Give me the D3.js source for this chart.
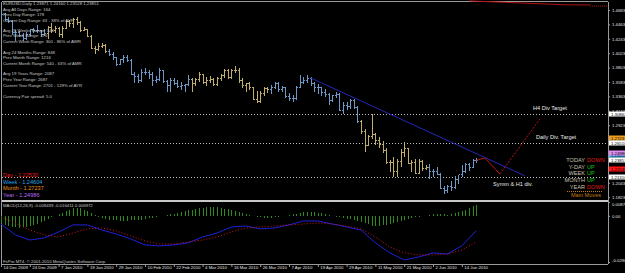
<!DOCTYPE html>
<html>
<head>
<meta charset="utf-8">
<script src="https://cdn.jsdelivr.net/npm/d3@7"></script>
<style>
  body { margin: 0; background: #000; overflow: hidden; }
  svg { display: block; font-family: "Liberation Sans", Arial, sans-serif; }
</style>
</head>
<body>
<svg id="chart" width="625" height="273"></svg>
<script>
// EURUSD daily, 14 Dec 2009 .. 18 Jun 2010 (one bar per trading day)
const opens  = [1.4585,1.4620,1.4545,1.4520,1.4340,1.4345,1.4300,1.4260,1.4320,1.4385,1.4370,1.4370,1.4320,1.4330,1.4420,1.4370,
  1.4410,1.4310,1.4410,1.4510,1.4480,1.4550,1.4500,1.4380,1.4390,1.4290,1.4105,1.4090,1.4140,1.4145,1.4060,1.4010,
  1.3960,1.3865,1.3930,1.3970,1.3920,1.3710,1.3670,1.3620,1.3740,1.3730,1.3700,1.3620,1.3630,1.3760,1.3600,1.3530,
  1.3610,1.3570,1.3520,1.3530,1.3550,1.3630,1.3570,1.3630,1.3700,1.3580,1.3620,1.3630,1.3550,1.3640,1.3690,1.3770,
  1.3660,1.3770,1.3770,1.3620,1.3530,1.3560,1.3500,1.3330,1.3290,1.3410,1.3490,1.3470,1.3510,1.3570,1.3480,1.3500,
  1.3370,1.3340,1.3340,1.3500,1.3580,1.3620,1.3650,1.3560,1.3500,1.3500,1.3430,1.3400,1.3310,1.3380,1.3400,1.3160,
  1.3230,1.3220,1.3300,1.3200,1.2980,1.2830,1.2620,1.2750,1.2790,1.2700,1.2640,1.2540,1.2360,1.2360,1.2220,1.2370,
  1.2510,1.2570,1.2350,1.2360,1.2190,1.2380,1.2270,1.2290,1.2220,1.2220,1.2170,1.1970,1.1940,1.1990,1.1980,1.2100,
  1.2170,1.2220,1.2330,1.2290,1.2387];
const highs  = [1.4650,1.4630,1.4580,1.4530,1.4380,1.4365,1.4335,1.4340,1.4390,1.4410,1.4450,1.4380,1.4400,1.4440,1.4485,1.4440,
  1.4420,1.4435,1.4530,1.4530,1.4560,1.4580,1.4510,1.4420,1.4400,1.4300,1.4140,1.4180,1.4180,1.4170,1.4080,1.4040,
  1.3970,1.3940,1.3990,1.3990,1.3930,1.3740,1.3700,1.3780,1.3790,1.3760,1.3730,1.3680,1.3790,1.3760,1.3610,1.3640,
  1.3640,1.3610,1.3580,1.3550,1.3690,1.3640,1.3640,1.3740,1.3710,1.3660,1.3680,1.3640,1.3660,1.3710,1.3780,1.3780,
  1.3780,1.3820,1.3790,1.3640,1.3570,1.3580,1.3510,1.3440,1.3440,1.3510,1.3500,1.3540,1.3590,1.3580,1.3520,1.3510,
  1.3410,1.3380,1.3520,1.3690,1.3660,1.3690,1.3660,1.3580,1.3550,1.3510,1.3470,1.3410,1.3390,1.3430,1.3420,1.3270,
  1.3280,1.3330,1.3320,1.3210,1.3000,1.2860,1.2780,1.3090,1.2810,1.2740,1.2680,1.2580,1.2390,1.2440,1.2410,1.2560,
  1.2670,1.2580,1.2390,1.2400,1.2400,1.2390,1.2310,1.2330,1.2260,1.2290,1.2190,1.1990,1.2010,1.2070,1.2140,1.2160,
  1.2320,1.2340,1.2350,1.2400,1.2416];
const lows   = [1.4580,1.4525,1.4500,1.4320,1.4220,1.4280,1.4220,1.4240,1.4300,1.4340,1.4350,1.4280,1.4300,1.4260,1.4340,1.4345,
  1.4290,1.4265,1.4410,1.4440,1.4420,1.4470,1.4360,1.4370,1.4280,1.4100,1.4030,1.4070,1.4120,1.4040,1.4000,1.3940,
  1.3850,1.3860,1.3890,1.3900,1.3700,1.3580,1.3580,1.3600,1.3700,1.3640,1.3530,1.3580,1.3610,1.3590,1.3450,1.3440,
  1.3550,1.3500,1.3480,1.3440,1.3530,1.3440,1.3530,1.3600,1.3560,1.3540,1.3590,1.3530,1.3540,1.3610,1.3660,1.3640,
  1.3650,1.3730,1.3590,1.3500,1.3440,1.3470,1.3320,1.3270,1.3280,1.3390,1.3430,1.3410,1.3490,1.3450,1.3440,1.3360,
  1.3310,1.3300,1.3330,1.3500,1.3560,1.3580,1.3530,1.3440,1.3420,1.3390,1.3370,1.3250,1.3290,1.3360,1.3150,1.3110,
  1.3170,1.3190,1.3180,1.2970,1.2810,1.2530,1.2620,1.2730,1.2640,1.2590,1.2510,1.2350,1.2230,1.2150,1.2140,1.2300,
  1.2450,1.2340,1.2230,1.2190,1.2190,1.2240,1.2250,1.2110,1.2150,1.2170,1.1960,1.1880,1.1900,1.1940,1.1970,1.2040,
  1.2140,1.2200,1.2240,1.2290,1.2353];
const closes = [1.4620,1.4545,1.4520,1.4340,1.4345,1.4300,1.4260,1.4320,1.4385,1.4370,1.4370,1.4320,1.4330,1.4420,1.4370,1.4410,
  1.4310,1.4410,1.4510,1.4480,1.4550,1.4500,1.4380,1.4390,1.4290,1.4105,1.4090,1.4140,1.4145,1.4060,1.4010,1.3960,
  1.3865,1.3930,1.3970,1.3920,1.3710,1.3670,1.3620,1.3740,1.3730,1.3700,1.3620,1.3630,1.3760,1.3600,1.3530,1.3610,
  1.3570,1.3520,1.3530,1.3550,1.3630,1.3570,1.3630,1.3700,1.3580,1.3620,1.3630,1.3550,1.3640,1.3690,1.3770,1.3660,
  1.3770,1.3770,1.3620,1.3530,1.3560,1.3500,1.3330,1.3290,1.3410,1.3490,1.3470,1.3510,1.3570,1.3480,1.3500,1.3370,
  1.3340,1.3340,1.3500,1.3580,1.3620,1.3650,1.3560,1.3500,1.3500,1.3430,1.3400,1.3310,1.3380,1.3400,1.3160,1.3230,
  1.3220,1.3300,1.3200,1.2980,1.2830,1.2620,1.2750,1.2790,1.2700,1.2640,1.2540,1.2360,1.2360,1.2220,1.2370,1.2510,
  1.2570,1.2350,1.2360,1.2190,1.2380,1.2270,1.2290,1.2220,1.2220,1.2170,1.1970,1.1940,1.1990,1.1980,1.2100,1.2170,
  1.2220,1.2330,1.2290,1.2390,1.2385];

// bar colouring state of the chart template (1 = up phase, -1 = down phase)
const trendRuns = [
  { from: 0, to: 12, dir: -1 }, { from: 13, to: 29, dir: 1 }, { from: 30, to: 52, dir: -1 },
  { from: 53, to: 74, dir: 1 }, { from: 75, to: 99, dir: -1 }, { from: 100, to: 118, dir: 1 },
  { from: 119, to: 132, dir: -1 }
];

const tickLabels = ["14 Dec 2009","24 Dec 2009","7 Jan 2010","19 Jan 2010","29 Jan 2010","10 Feb 2010","22 Feb 2010",
  "4 Mar 2010","16 Mar 2010","26 Mar 2010","7 Apr 2010","19 Apr 2010","29 Apr 2010","11 May 2010","21 May 2010",
  "2 Jun 2010","14 Jun 2010"];
const priceTicks = [1.46830,1.44630,1.42430,1.40230,1.38030,1.35830,1.33630,1.31430,1.29230,1.27030,1.24830,1.22630,1.20430,1.18230];

// MACD(12,26,9): main + signal read every 4 bars, histogram every bar
const macdMain = [-0.0051,-0.0120,-0.0152,-0.0139,-0.0101,-0.0057,-0.0057,-0.0089,-0.0114,-0.0145,-0.0183,-0.0189,
  -0.0183,-0.0170,-0.0133,-0.0108,-0.0070,-0.0064,-0.0082,-0.0076,-0.0057,-0.0032,-0.0032,-0.0051,-0.0070,-0.0089,
  -0.0170,-0.0233,-0.0277,-0.0259,-0.0233,-0.0240,-0.0189,-0.0094];
const macdSignal = [-0.0007,-0.0045,-0.0089,-0.0120,-0.0133,-0.0108,-0.0082,-0.0076,-0.0095,-0.0126,-0.0158,-0.0177,
  -0.0177,-0.0164,-0.0152,-0.0133,-0.0101,-0.0076,-0.0070,-0.0064,-0.0057,-0.0051,-0.0045,-0.0051,-0.0064,-0.0082,
  -0.0133,-0.0196,-0.0233,-0.0246,-0.0246,-0.0240,-0.0215,-0.0164];
const macdHist = [-0.0045,-0.0055,-0.0062,-0.0068,-0.0072,-0.0074,-0.0072,-0.0068,-0.0064,-0.0058,-0.0050,-0.0040,-0.0030,-0.0020,-0.0010,0.0000,
  0.0010,0.0020,0.0030,0.0040,0.0048,0.0052,0.0050,0.0040,0.0028,0.0016,0.0004,-0.0006,
  -0.0014,-0.0020,-0.0024,-0.0026,-0.0028,-0.0030,-0.0032,-0.0030,-0.0028,-0.0028,-0.0026,-0.0024,-0.0020,-0.0016,-0.0012,-0.0008,
  -0.0004,0.0000,0.0006,0.0010,0.0014,0.0018,0.0024,0.0030,0.0036,0.0040,0.0044,0.0048,0.0052,0.0054,0.0056,0.0056,0.0054,0.0050,0.0046,0.0042,0.0036,0.0030,0.0024,0.0018,0.0012,0.0006,0.0000,
  -0.0006,-0.0010,-0.0014,-0.0016,-0.0014,-0.0010,-0.0006,-0.0002,0.0002,0.0006,
  0.0010,0.0014,0.0018,0.0022,0.0024,0.0026,0.0024,0.0020,0.0016,0.0010,0.0004,-0.0002,-0.0006,-0.0010,-0.0014,-0.0018,
  -0.0022,-0.0026,-0.0030,-0.0036,-0.0044,-0.0052,-0.0062,-0.0066,-0.0064,-0.0060,-0.0056,-0.0050,-0.0046,-0.0040,-0.0034,-0.0028,-0.0022,-0.0016,-0.0010,-0.0006,-0.0002,0.0002,
  0.0006,0.0010,0.0012,0.0012,0.0010,0.0008,0.0010,0.0016,0.0024,0.0032,0.0040,0.0050,0.0060,0.0070];
const macdTicks = [0.00872, 0, -0.02904];

// drawn objects (bar index, price)
const trendLine = [[86, 1.3645], [145.5, 1.2150]];
const projection = [[132, 1.2385], [134.4, 1.2422], [138.6, 1.2177]];
const projectionUp = [[138.6, 1.2177], [149.7, 1.3018]];
const topLineSolid = [[130, 1.4822], [157, 1.4762], [163.6, 1.4760]];
const topLineDotted = [[163.6, 1.4742], [168.4, 1.4742]];

const targetNames = ["H4 Div Target", "Daily Div. Target", "Symm & H1 div."];
const targetPrices = [1.30862, 1.26510, 1.21310];

const levelNames = ["Day", "Week", "Month", "Year"];
const levelValues = [1.22530, 1.24604, 1.27237, 1.24986];
const bidPrice = 1.23851;

const moveNames = ["TODAY", "Y-DAY", "WEEK", "MONTH", "YEAR"];
const moveDirs = ["DOWN", "UP", "UP", "UP", "DOWN"];

const infoLines = [
  "EURUSD,Daily  1.23871 1.24160 1.23528 1.23851",
  "Avg All Days Range: 164",
  "Prev Day Range: 178",
  "Current Day Range: 63 - 38% of AVR",
  "Avg 26 Weeks Range: 344",
  "Prev Week Range: 376",
  "Current Week Range: 300 - 86% of AWR",
  "Avg 24 Months Range: 848",
  "Prev Month Range: 1216",
  "Current Month Range: 540 - 63% of AMR",
  "Avg 19 Years Range: 2087",
  "Prev Year Range: 2687",
  "Current Year Range: 2701 - 129% of AYR",
  "Currency Pair spread: 5.0"
];

// ---- layout
const svg = d3.select("#chart");
const plotL = 1.5, plotR = 608;
const mainTop = 2, mainBot = 199;
const macdTop = 202, macdBot = 262;
const axisY = 264;
const txt = "#c8c8c8";
const grid = "#9a9a9a";
const small = 4.3;

const x = d3.scaleLinear().domain([0, 128]).range([1, 461.8]);
const y = d3.scaleLinear().domain([1.1795, 1.4805]).range([mainBot, mainTop]);
const ym = d3.scaleLinear().domain([-0.02904, 0.00872]).range([macdBot, macdTop]);
const px = i => Math.round(x(i)) + 0.5;

svg.append("rect").attr("width", 625).attr("height", 273).attr("fill", "#000");

svg.append("clipPath").attr("id", "mainClip")
  .append("rect").attr("x", plotL).attr("y", 0).attr("width", plotR - plotL).attr("height", mainBot);

// frame
const frame = svg.append("g").attr("stroke", grid).attr("shape-rendering", "crispEdges");
frame.append("line").attr("x1", plotL).attr("x2", plotR).attr("y1", 1.5).attr("y2", 1.5);
frame.append("line").attr("x1", plotL).attr("x2", plotL).attr("y1", 1.5).attr("y2", axisY);
frame.append("line").attr("x1", plotR + 0.5).attr("x2", plotR + 0.5).attr("y1", 1.5).attr("y2", axisY);
frame.append("line").attr("x1", plotL).attr("x2", plotR).attr("y1", 200.5).attr("y2", 200.5)
  .attr("stroke", "#c8c8c8").attr("stroke-width", 2);
frame.append("line").attr("x1", plotL).attr("x2", plotR).attr("y1", axisY + 0.5).attr("y2", axisY + 0.5);

// target levels (dotted)
const main = svg.append("g").attr("clip-path", "url(#mainClip)");
main.selectAll(".target").data(targetPrices).join("line")
  .attr("x1", plotL).attr("x2", plotR)
  .attr("y1", d => Math.round(y(d)) + 0.5).attr("y2", d => Math.round(y(d)) + 0.5)
  .attr("stroke", "#bdbdbd").attr("stroke-dasharray", "1,2").attr("shape-rendering", "crispEdges");

// bars
const barColor = i => {
  const run = trendRuns.find(r => i >= r.from && i <= r.to);
  return run && run.dir > 0 ? "#bfae6e" : "#6f98c6";
};
const bars = main.append("g").attr("shape-rendering", "crispEdges").attr("stroke-width", 1);
bars.selectAll(".hl").data(closes).join("line")
  .attr("x1", (d, i) => px(i)).attr("x2", (d, i) => px(i))
  .attr("y1", (d, i) => y(highs[i])).attr("y2", (d, i) => y(lows[i]) + 1)
  .attr("stroke", (d, i) => barColor(i));
bars.selectAll(".op").data(opens).join("line")
  .attr("x1", (d, i) => px(i) - 1.5).attr("x2", (d, i) => px(i))
  .attr("y1", d => Math.round(y(d)) + 0.5).attr("y2", d => Math.round(y(d)) + 0.5)
  .attr("stroke", (d, i) => barColor(i));
bars.selectAll(".cl").data(closes).join("line")
  .attr("x1", (d, i) => px(i)).attr("x2", (d, i) => px(i) + 1.5)
  .attr("y1", d => Math.round(y(d)) + 0.5).attr("y2", d => Math.round(y(d)) + 0.5)
  .attr("stroke", (d, i) => barColor(i));

// drawn lines
const pline = d3.line().x(d => x(d[0])).y(d => y(d[1]));
main.append("path").attr("d", pline(trendLine)).attr("fill", "none").attr("stroke", "#2626b8").attr("stroke-width", 1);
main.append("path").attr("d", pline(projection)).attr("fill", "none").attr("stroke", "#c01414").attr("stroke-width", 1);
main.append("path").attr("d", pline(projectionUp)).attr("fill", "none").attr("stroke", "#c01414")
  .attr("stroke-width", 1).attr("stroke-dasharray", "2,1.5");
svg.append("path").attr("d", pline(topLineSolid)).attr("fill", "none").attr("stroke", "#b01010").attr("stroke-width", 1);
svg.append("path").attr("d", pline(topLineDotted)).attr("fill", "none").attr("stroke", "#b01010")
  .attr("stroke-width", 1).attr("stroke-dasharray", "1,1");

// target labels
const targetLabelAt = [[147.8, -4], [148.6, -4], [136.7, 9]];
svg.selectAll(".tlab").data(targetNames).join("text")
  .attr("x", (d, i) => x(targetLabelAt[i][0]))
  .attr("y", (d, i) => y(targetPrices[i]) + targetLabelAt[i][1])
  .attr("fill", "#e8e8e8").attr("font-size", 5.6).text(d => d);

// info block
const infoY = [5.3, 11.2, 16.4, 21.7, 31.7, 37.4, 43.4, 54, 59.4, 64.7, 75, 81, 86.7, 97.7];
svg.selectAll(".info").data(infoLines).join("text")
  .attr("x", 3).attr("y", (d, i) => infoY[i])
  .attr("fill", txt).attr("font-size", small).text(d => d);

// pivot levels text
const levelColors = ["#e81c1c", "#2aa2e6", "#e8921c", "#b768e8"];
svg.selectAll(".lvl").data(levelNames).join("text")
  .attr("x", 3).attr("y", (d, i) => 177.2 + i * 6.6)
  .attr("fill", (d, i) => levelColors[i]).attr("font-size", 5.6)
  .text((d, i) => d + " - " + levelValues[i].toFixed(5));

// main moves panel
const moveY = [162, 168.6, 175, 182.2, 189];
const mv = svg.append("g").attr("font-size", 5.6);
mv.selectAll(".mn").data(moveNames).join("text")
  .attr("x", 585).attr("y", (d, i) => moveY[i])
  .attr("text-anchor", "end").attr("fill", "#c8c0b0").text(d => d);
mv.selectAll(".md").data(moveDirs).join("text")
  .attr("x", 587).attr("y", (d, i) => moveY[i])
  .attr("fill", d => d === "UP" ? "#18c018" : "#e01818").text(d => d);
svg.append("line").attr("x1", 567).attr("x2", 603).attr("y1", 191.5).attr("y2", 191.5)
  .attr("stroke", "#c07a18").attr("stroke-dasharray", "1,1");
svg.append("text").attr("x", 586).attr("y", 197.2).attr("text-anchor", "middle")
  .attr("fill", "#c07a18").attr("font-size", 5.6).text("Main Moves");

// price axis
const yAxis = svg.append("g").attr("transform", `translate(${plotR},0)`)
  .call(d3.axisRight(y).tickValues(priceTicks).tickSize(2).tickFormat(d3.format(".5f")));
yAxis.select(".domain").remove();
yAxis.selectAll("line").attr("stroke", grid);
yAxis.selectAll("text").attr("x", 4).attr("fill", "#e0e0e0").attr("font-size", small)
  .attr("font-family", "Liberation Sans, Arial, sans-serif");

// price boxes on the axis
const boxColors = ["#ff1414", "#36acec", "#f0a01e", "#e08cf2"];
const boxes = [1, 3, 2, 0].map(i => ({ v: levelValues[i], c: boxColors[i], t: "#000" }))
  .concat(targetPrices.map(v => ({ v: v, c: "#ffffff", t: "#000" })))
  .concat([{ v: bidPrice, c: "#ffffff", t: "#000" }]);
const bx = svg.append("g").selectAll("g").data(boxes).join("g")
  .attr("transform", d => `translate(${plotR + 1},${Math.round(y(d.v))})`);
bx.append("rect").attr("x", 0).attr("y", -2.5).attr("width", 17).attr("height", 5).attr("fill", d => d.c);
bx.append("text").attr("x", 2).attr("y", 1.6).attr("font-size", small).attr("fill", d => d.t)
  .text(d => d.v.toFixed(5));

// MACD panel
const macdIdx = d3.range(0, 133, 4);
svg.append("g").attr("shape-rendering", "crispEdges")
  .selectAll("line").data(macdHist).join("line")
  .attr("x1", (d, i) => px(i)).attr("x2", (d, i) => px(i))
  .attr("y1", ym(0)).attr("y2", d => ym(d))
  .attr("stroke", "#2f8a1e");
const mline = d3.line().x((d, i) => x(macdIdx[i])).y(d => ym(d));
svg.append("path").attr("d", mline(macdMain)).attr("fill", "none").attr("stroke", "#2020d8").attr("stroke-width", 1);
svg.append("path").attr("d", mline(macdSignal)).attr("fill", "none").attr("stroke", "#d01818")
  .attr("stroke-width", 1).attr("stroke-dasharray", "1,2");

svg.append("text").attr("x", 3).attr("y", 206.8).attr("fill", txt).attr("font-size", small)
  .text("MACD(12,26,9) -0.009439 -0.016411 0.006972");

const mAxis = svg.append("g").attr("transform", `translate(${plotR},0)`)
  .call(d3.axisRight(ym).tickValues(macdTicks).tickSize(2)
    .tickFormat(d => d === 0 ? "0.00" : d.toFixed(5)));
mAxis.select(".domain").remove();
mAxis.selectAll("line").attr("stroke", grid);
mAxis.selectAll("text").attr("x", 4).attr("fill", "#e0e0e0").attr("font-size", small)
  .attr("font-family", "Liberation Sans, Arial, sans-serif")
  .attr("dy", d => d === 0.00872 ? "0.9em" : (d < 0 ? "-0.1em" : "0.32em"));

svg.append("text").attr("x", 3).attr("y", 262.5).attr("fill", txt).attr("font-size", small)
  .text("FxPro MT4, \u00a9 2001-2010 MetaQuotes Software Corp.");

// time axis
const xAxis = svg.append("g").attr("transform", `translate(0,${axisY})`)
  .call(d3.axisBottom(x).tickValues(d3.range(0, 129, 8)).tickSize(3).tickFormat((d, i) => tickLabels[i]));
xAxis.select(".domain").remove();
xAxis.selectAll("line").attr("stroke", grid);
xAxis.selectAll("text").attr("text-anchor", "start").attr("x", 2).attr("y", 2).attr("dy", "0.71em")
  .attr("fill", "#e0e0e0").attr("font-size", small).attr("font-family", "Liberation Sans, Arial, sans-serif");
</script>
</body>
</html>
